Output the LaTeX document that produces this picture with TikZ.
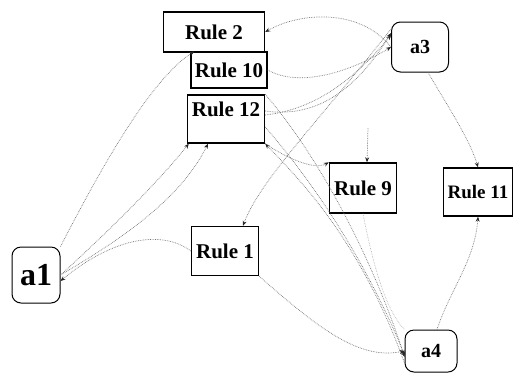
\documentclass[tikz,border=0pt]{standalone}
\usepackage{fontspec}
\setmainfont{Liberation Serif}
\usetikzlibrary{arrows.meta}
\tikzset{
  rulebox/.style={draw=black, line width=1.4pt, fill=white, inner sep=0pt,
    font=\bfseries\fontsize{21}{21}\selectfont},
  agent/.style={draw=black, line width=1pt, rounded corners=9pt, fill=white,
    inner sep=0pt, font=\bfseries\fontsize{20}{20}\selectfont},
  edge/.style={draw=black!55, line width=0.7pt, densely dotted,
    -{Stealth[length=5pt,width=4pt,black!85]}},
}
\begin{document}
\begin{tikzpicture}[x=1pt,y=-1pt]
  \useasboundingbox (0,0) rectangle (513,376);

  % agents
  \node[agent, minimum width=48pt, minimum height=56pt,
        font=\bfseries\fontsize{32}{32}\selectfont] (a1) at (36,275) {a1};
  \node[agent, minimum width=57pt, minimum height=50pt] (a3) at (420,47) {a3};
  \node[agent, minimum width=52pt, minimum height=42pt] (a4) at (431,351) {a4};

  % rules
  \node[rulebox, minimum width=101pt, minimum height=40pt] (r2) at (214,32) {Rule 2};
  \node[rulebox, minimum width=76pt, minimum height=36pt] (r10) at (229,70) {Rule 10};
  \node[rulebox, minimum width=77pt, inner ysep=6pt, text height=15pt,
        text depth=21pt] (r12) at (226,119) {Rule 12};
  \node[rulebox, minimum width=67pt, minimum height=49pt] (r1) at (225,251) {Rule 1};
  \node[rulebox, minimum width=67pt, minimum height=50pt] (r9) at (363,188) {Rule 9};
  \node[rulebox, minimum width=69pt, minimum height=48pt,
        font=\bfseries\fontsize{19}{19}\selectfont] (r11) at (478,192) {Rule 11};

  \coordinate (r9in) at (368,128);

  % connectors
  \draw[edge] (a3.west) .. controls (360,8) and (300,12) .. (r2.east);
  \draw[edge] (r10.east) .. controls (300,88) and (350,72) .. (a3.west);
  \draw[edge] (a1.north east) .. controls (100,170) and (150,80) .. ([xshift=4pt]r10.north west);
  \draw[edge] (a1.east) .. controls (110,230) and (160,180) .. ([xshift=2pt]r12.south west);
  \draw[edge] (a1.east) .. controls (120,240) and (180,200) .. ([xshift=-18pt]r12.south);
  \draw[edge] ([yshift=4pt]r12.east) .. controls (310,110) and (350,85) .. ([yshift=12pt]a3.west);
  \draw[edge] ([yshift=8pt]r12.east) .. controls (315,118) and (355,92) .. ([yshift=14pt]a3.west);
  \draw[edge] ([yshift=18pt]a3.west) .. controls (320,120) and (260,180) .. ([xshift=18pt]r1.north);
  \draw[edge] (r12.north east) .. controls (330,170) and (380,280) .. ([yshift=-6pt]a4.west);
  \draw[edge] ([yshift=-8pt]r12.east) .. controls (320,190) and (370,270) .. ([yshift=-4pt]a4.west);
  \draw[edge] ([yshift=-12pt]a4.west) .. controls (360,240) and (300,180) .. (r12.south east);
  \draw[edge] (r1.south east) .. controls (320,330) and (360,360) .. (a4.west);
  \draw[edge] (r1.west) .. controls (160,228) and (110,240) .. ([yshift=-6pt]a1.east);
  \draw[edge] ([xshift=8pt]a3.south) .. controls (450,110) and (470,140) .. (r11.north);
  \draw[edge] ([xshift=6pt]a4.north) .. controls (450,290) and (475,260) .. (r11.south);
  \draw[edge] (r9in) -- ([xshift=4pt]r9.north);
  \draw[edge] (r12.south east) .. controls (290,160) and (315,170) .. (r9.north west);
  \draw[draw=black!35, line width=0.6pt, densely dotted] (r9.south) .. controls (372,260) and (385,310) .. (a4.north west);
\end{tikzpicture}
\end{document}
